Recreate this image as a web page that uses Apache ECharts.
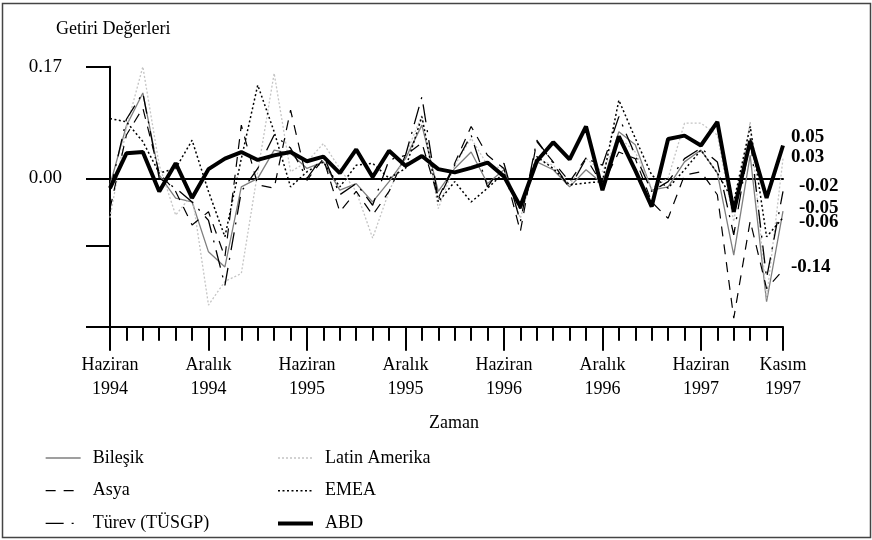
<!DOCTYPE html>
<html>
<head>
<meta charset="utf-8">
<script src="https://cdn.jsdelivr.net/npm/echarts@6/dist/echarts.min.js"></script>
<style>
  html, body { margin: 0; padding: 0; background: #fff; }
  #chart { width: 872px; height: 540px; }
</style>
</head>
<body>
<div id="chart"></div>
<script>
// Monthly return series, June 1994 - November 1997
const months = [
  'Haziran 1994','Temmuz 1994','Ağustos 1994','Eylül 1994','Ekim 1994','Kasım 1994','Aralık 1994',
  'Ocak 1995','Şubat 1995','Mart 1995','Nisan 1995','Mayıs 1995','Haziran 1995','Temmuz 1995',
  'Ağustos 1995','Eylül 1995','Ekim 1995','Kasım 1995','Aralık 1995','Ocak 1996','Şubat 1996',
  'Mart 1996','Nisan 1996','Mayıs 1996','Haziran 1996','Temmuz 1996','Ağustos 1996','Eylül 1996',
  'Ekim 1996','Kasım 1996','Aralık 1996','Ocak 1997','Şubat 1997','Mart 1997','Nisan 1997',
  'Mayıs 1997','Haziran 1997','Temmuz 1997','Ağustos 1997','Eylül 1997','Ekim 1997','Kasım 1997'
];

// Months that carry a label and a long tick
const labelledMonths = ['Haziran 1994','Aralık 1994','Haziran 1995','Aralık 1995',
  'Haziran 1996','Aralık 1996','Haziran 1997','Kasım 1997'];

// Y-axis ticks and labelled values
const yTickValues = [0.17, 0, -0.103, -0.226];
const yLabelValues = [0.17, 0];
const yMin = -0.226;
const yMax = 0.17;

const bilesik = [
  -0.010, 0.080, 0.130, 0.005, -0.030, -0.036, -0.112, -0.135, -0.013, 0.000,
  0.043, 0.038, 0.015, 0.025, -0.018, -0.008, -0.036, -0.005, 0.030, 0.081,
  -0.020, 0.015, 0.040, -0.008, 0.013, -0.046, 0.025, 0.013, -0.013, 0.013,
  -0.008, 0.071, 0.051, -0.018, -0.013, 0.025, 0.043, 0.008, -0.117, 0.035,
  -0.188, -0.05
];
const latinAmerika = [
  -0.060, 0.077, 0.170, 0.020, -0.056, -0.025, -0.193, -0.157, -0.145, 0.010,
  0.160, 0.010, 0.025, 0.053, 0.015, -0.020, -0.091, -0.020, 0.035, 0.096,
  -0.046, 0.020, 0.061, 0.020, 0.015, -0.061, 0.030, 0.020, -0.010, 0.030,
  0.010, 0.063, 0.040, -0.015, 0.000, 0.084, 0.084, 0.066, -0.066, 0.086,
  -0.183, 0.03
];
const asya = [
  -0.046, 0.066, 0.107, 0.008, -0.020, -0.071, -0.051, -0.120, 0.081, -0.010,
  -0.015, 0.104, -0.003, 0.030, -0.051, -0.020, -0.056, -0.020, 0.035, 0.054,
  -0.030, 0.023, 0.079, 0.035, 0.015, -0.081, 0.056, 0.025, -0.005, 0.031,
  -0.010, 0.040, 0.030, -0.036, -0.061, 0.005, 0.010, -0.025, -0.213, -0.065,
  -0.168, -0.14
];
const emea = [
  0.091, 0.086, 0.056, 0.008, 0.015, 0.058, -0.020, -0.089, 0.030, 0.142,
  0.071, -0.013, 0.010, 0.025, -0.013, 0.020, 0.023, 0.000, 0.015, 0.094,
  -0.036, -0.005, -0.036, -0.015, 0.008, -0.048, 0.033, 0.015, -0.010, -0.007,
  -0.005, 0.119, 0.061, 0.005, -0.015, 0.013, 0.043, 0.008, -0.036, 0.079,
  -0.089, -0.06
];
const turev = [
  -0.020, 0.090, 0.130, 0.000, -0.015, -0.036, -0.064, -0.163, -0.020, 0.015,
  0.066, 0.046, 0.000, 0.035, -0.025, -0.008, -0.041, 0.028, 0.035, 0.124,
  -0.033, 0.020, 0.066, -0.013, 0.023, -0.066, 0.058, 0.023, -0.015, 0.030,
  0.020, 0.094, 0.035, -0.020, -0.005, 0.030, 0.046, 0.025, -0.086, 0.061,
  -0.152, -0.02
];
const abd = [
  -0.015, 0.038, 0.040, -0.020, 0.023, -0.030, 0.014, 0.030, 0.040, 0.028,
  0.035, 0.040, 0.026, 0.033, 0.008, 0.044, 0.002, 0.042, 0.019, 0.034,
  0.014, 0.009, 0.016, 0.024, 0.003, -0.043, 0.026, 0.055, 0.029, 0.079,
  -0.018, 0.064, 0.012, -0.043, 0.060, 0.065, 0.050, 0.086, -0.051, 0.057,
  -0.030, 0.05
];

const FONT = '"Liberation Serif", "Times New Roman", serif';
const isLabelled = (i) => labelledMonths.indexOf(months[i]) !== -1;

function endLabel(dx, dy) {
  return {
    show: true,
    distance: 0,
    offset: [dx, dy],
    formatter: (p) => p.value.toFixed(2),
    fontFamily: FONT,
    fontSize: 19,
    fontWeight: 'bold',
    color: '#000'
  };
}

function lineSeries(name, data, style, label) {
  return {
    name: name,
    type: 'line',
    data: data,
    symbol: 'none',
    showSymbol: false,
    smooth: false,
    xAxisIndex: 0,
    yAxisIndex: 0,
    lineStyle: style,
    itemStyle: { color: style.color },
    endLabel: label,
    emphasis: { disabled: true }
  };
}

const chart = echarts.init(document.getElementById('chart'), null, { renderer: 'canvas' });

// Two legend columns; only the line sample is shown, no point marker
const legendCommon = {
  orient: 'vertical',
  itemWidth: 35,
  itemHeight: 14,
  itemGap: 14.7,
  height: 90,
  selectedMode: false,
  itemStyle: { opacity: 0 },
  lineStyle: { width: 'inherit' },
  textStyle: { fontFamily: FONT, fontSize: 18, lineHeight: 14, color: '#000', padding: [0, 0, 0, 7] }
};

chart.setOption({
  animation: false,
  backgroundColor: '#fff',
  textStyle: { fontFamily: FONT },
  grid: { left: 110, right: 89, top: 66.7, bottom: 213.3, containLabel: false },
  graphic: [
    {
      type: 'rect',
      shape: { x: 2.5, y: 3.5, width: 868, height: 534 },
      style: { fill: 'none', stroke: '#444', lineWidth: 1.5 },
      silent: true
    },
    {
      type: 'text',
      style: { text: 'Getiri Değerleri', x: 56, y: 29.5, font: '18px ' + FONT,
        fill: '#000', textAlign: 'left', textVerticalAlign: 'middle' },
      silent: true
    },
    {
      type: 'text',
      style: { text: 'Zaman', x: 429, y: 423, font: '18px ' + FONT,
        fill: '#000', textAlign: 'left', textVerticalAlign: 'middle' },
      silent: true
    }
  ],
  legend: [
    Object.assign({}, legendCommon, {
      left: 40, top: 444,
      data: ['Bileşik', 'Asya', 'Türev (TÜSGP)']
    }),
    Object.assign({}, legendCommon, {
      left: 271, top: 444,
      data: ['Latin Amerika', 'EMEA', 'ABD']
    })
  ],
  xAxis: [
    {
      type: 'category',
      data: months,
      boundaryGap: false,
      position: 'bottom',
      axisLine: { onZero: false, lineStyle: { color: '#000', width: 2 } },
      axisTick: { show: true, interval: 0, length: 14, lineStyle: { color: '#000', width: 2 } },
      axisLabel: {
        interval: (i) => isLabelled(i),
        formatter: (v) => v.replace(' ', '\n'),
        margin: 27,
        fontFamily: FONT,
        fontSize: 18,
        lineHeight: 24,
        color: '#000'
      },
      splitLine: { show: false }
    },
    {
      type: 'category',
      data: months,
      boundaryGap: false,
      position: 'bottom',
      axisLine: { show: false, onZero: false },
      axisTick: { show: true, interval: (i) => isLabelled(i), length: 24, lineStyle: { color: '#000', width: 2 } },
      axisLabel: { show: false },
      splitLine: { show: false }
    },
    {
      type: 'category',
      data: months,
      boundaryGap: false,
      position: 'bottom',
      axisLine: { show: true, onZero: true, lineStyle: { color: '#000', width: 2 } },
      axisTick: { show: false },
      axisLabel: { show: false },
      splitLine: { show: false }
    }
  ],
  yAxis: {
    type: 'value',
    min: yMin,
    max: yMax,
    axisLine: { show: true, lineStyle: { color: '#000', width: 2 } },
    axisTick: { show: true, length: 24, customValues: yTickValues, lineStyle: { color: '#000', width: 2 } },
    axisLabel: {
      customValues: yLabelValues,
      formatter: (v) => v.toFixed(2),
      margin: 48,
      fontFamily: FONT,
      fontSize: 19,
      color: '#000'
    },
    splitLine: { show: false }
  },
  series: [
    lineSeries('Bileşik', bilesik, { color: '#7f7f7f', width: 1.3, type: 'solid' }, endLabel(16, -3)),
    lineSeries('Latin Amerika', latinAmerika, { color: '#c4c4c4', width: 1.3, type: [2, 2] }, endLabel(8, -2)),
    lineSeries('Asya', asya, { color: '#000', width: 1.2, type: [10, 8] }, endLabel(8, -3.5)),
    lineSeries('EMEA', emea, { color: '#000', width: 1.5, type: [2, 2.5] }, endLabel(16, 4)),
    lineSeries('Türev (TÜSGP)', turev, { color: '#000', width: 1.3, type: [18, 8, 2, 8] }, endLabel(16, -5.4)),
    lineSeries('ABD', abd, { color: '#000', width: 4, type: 'solid' }, endLabel(8, -8.5))
  ]
});
</script>
</body>
</html>
